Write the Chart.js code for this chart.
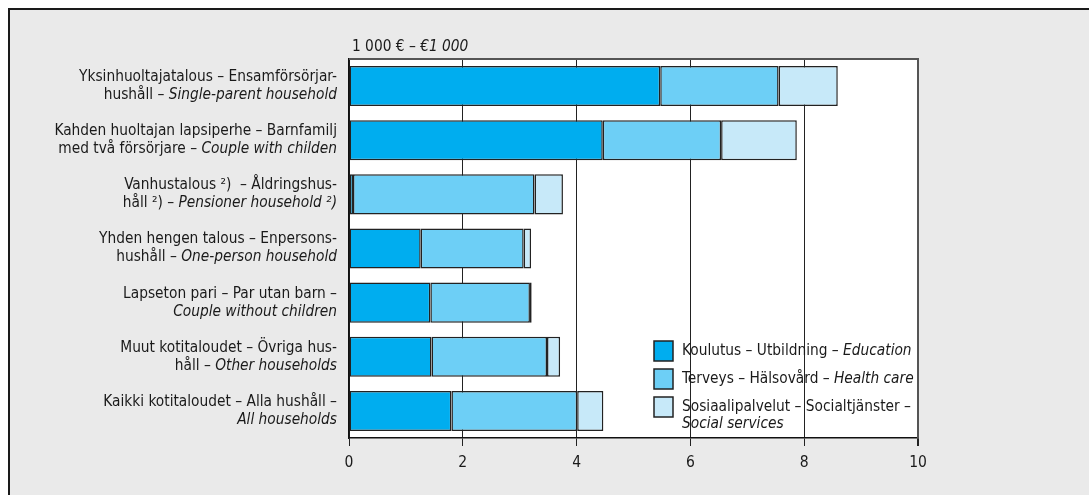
<!DOCTYPE html>
<html>
<head>
<meta charset="utf-8">
<script src="https://cdn.jsdelivr.net/npm/chart.js@4"></script>
<style>
  body { margin: 0; background: #fff; }
  #panel { position: absolute; left: 8px; top: 8px; width: 1081px; height: 487px;
           background: #eaeaea; border-top: 2px solid #1a1a1a; border-left: 2px solid #1a1a1a; box-sizing: border-box; }
  #chart { position: absolute; left: 0; top: 0; }
</style>
</head>
<body>
<div id="panel"></div>
<canvas id="chart" width="1089" height="495"></canvas>
<script>
// '*' switches italic on/off
const categories = [
  ['Yksinhuoltajatalous – Ensamförsörjar-', 'hushåll – *Single-parent household*'],
  ['Kahden huoltajan lapsiperhe – Barnfamilj', 'med två försörjare – *Couple with childen*'],
  ['Vanhustalous ²)  – Åldringshus-', 'håll ²) – *Pensioner household ²)*'],
  ['Yhden hengen talous – Enpersons-', 'hushåll – *One-person household*'],
  ['Lapseton pari – Par utan barn –', '*Couple without children*'],
  ['Muut kotitaloudet – Övriga hus-', 'håll – *Other households*'],
  ['Kaikki kotitaloudet – Alla hushåll –', '*All households*']
];
const education = [5.47, 4.46, 0.07, 1.26, 1.43, 1.45, 1.80];
const health = [2.08, 2.08, 3.19, 1.81, 1.75, 2.03, 2.21];
const social = [1.04, 1.33, 0.50, 0.13, 0.03, 0.23, 0.46];
const seriesNames = [
  ['Koulutus – Utbildning – *Education*'],
  ['Terveys – Hälsovård – *Health care*'],
  ['Sosiaalipalvelut – Socialtjänster –', '*Social services*']
];
const unitTitle = '1 000 € – *€1 000*';
const xTicks = [0, 2, 4, 6, 8, 10];

const FONT = "'Liberation Sans Narrow', 'DejaVu Sans Condensed', 'Roboto', sans-serif";
const colors = ['#00adef', '#6dcff6', '#c7e9f9'];

function richText(ctx, str, x, y, align, size) {
  const parts = str.split('*');
  const fonts = parts.map((p, i) => (i % 2 ? 'italic ' : '') + size + 'px ' + FONT);
  let total = 0;
  parts.forEach((p, i) => { ctx.font = fonts[i]; total += ctx.measureText(p).width; });
  let cx = align === 'right' ? x - total : x;
  ctx.textBaseline = 'middle';
  ctx.textAlign = 'left';
  ctx.fillStyle = '#1a1a1a';
  parts.forEach((p, i) => {
    ctx.font = fonts[i];
    ctx.fillText(p, cx, y);
    cx += ctx.measureText(p).width;
  });
}

const decor = {
  id: 'decor',
  beforeDraw(chart) {
    const { ctx, chartArea: a } = chart;
    ctx.save();
    ctx.fillStyle = '#fff';
    ctx.fillRect(a.left, a.top, a.right - a.left, a.bottom - a.top);
    ctx.restore();
  },
  afterDraw(chart) {
    const { ctx, chartArea: a, scales } = chart;
    ctx.save();
    // frame top and right
    ctx.strokeStyle = '#555';
    ctx.lineWidth = 2;
    ctx.beginPath();
    ctx.moveTo(a.left, a.top);
    ctx.lineTo(a.right, a.top);
    ctx.lineTo(a.right, a.bottom);
    ctx.stroke();
    // category labels
    categories.forEach((lines, i) => {
      const yc = scales.y.getPixelForValue(i);
      lines.forEach((ln, j) => {
        const y = yc + (j - (lines.length - 1) / 2) * 18;
        richText(ctx, ln, a.left - 12, y, 'right', 15.3);
      });
    });
    // unit title
    richText(ctx, unitTitle, a.left + 3, a.top - 12, 'left', 15.3);
    // legend inside plot
    const lx = a.left + 305, ly = a.top + 282;
    chart.data.datasets.forEach((ds, i) => {
      const by = ly + i * 28;
      ctx.fillStyle = ds.backgroundColor;
      ctx.fillRect(lx, by, 19, 20);
      ctx.strokeStyle = '#222';
      ctx.lineWidth = 1.5;
      ctx.strokeRect(lx, by, 19, 20);
      seriesNames[i].forEach((ln, j) => {
        richText(ctx, ln, lx + 28, by + 10 + j * 17, 'left', 15.3);
      });
    });
    ctx.restore();
  }
};

new Chart(document.getElementById('chart'), {
  type: 'bar',
  data: {
    labels: categories.map(c => c.join(' ').replace(/\*/g, '')),
    datasets: [
      { label: 'Education', data: education, backgroundColor: colors[0] },
      { label: 'Health care', data: health, backgroundColor: colors[1] },
      { label: 'Social services', data: social, backgroundColor: colors[2] }
    ].map(d => Object.assign(d, {
      borderColor: '#222', borderWidth: 1.5, borderSkipped: false,
      categoryPercentage: 1, barPercentage: 0.74
    }))
  },
  options: {
    indexAxis: 'y',
    responsive: false,
    animation: false,
    layout: { padding: { top: 59, right: 171, left: 0, bottom: 0 } },
    plugins: { legend: { display: false }, tooltip: { enabled: false } },
    scales: {
      x: {
        stacked: true,
        min: 0, max: 10,
        afterBuildTicks: s => { s.ticks = xTicks.map(v => ({ value: v })); },
        afterFit: s => { s.height = 57; },
        border: { display: true, color: '#111', width: 1.5 },
        grid: {
          color: c => c.tick && c.tick.value === 10 ? '#555' : '#222',
          lineWidth: c => c.tick && c.tick.value === 10 ? 2 : 1,
          tickColor: '#222',
          tickLength: 8
        },
        ticks: { color: '#1a1a1a', padding: 8, font: { family: FONT, size: 15.5 } }
      },
      y: {
        stacked: true,
        afterFit: s => { s.width = 349; },
        border: { display: true, color: '#111', width: 1.5 },
        grid: { display: false },
        ticks: { display: false }
      }
    }
  },
  plugins: [decor]
});
</script>
</body>
</html>
